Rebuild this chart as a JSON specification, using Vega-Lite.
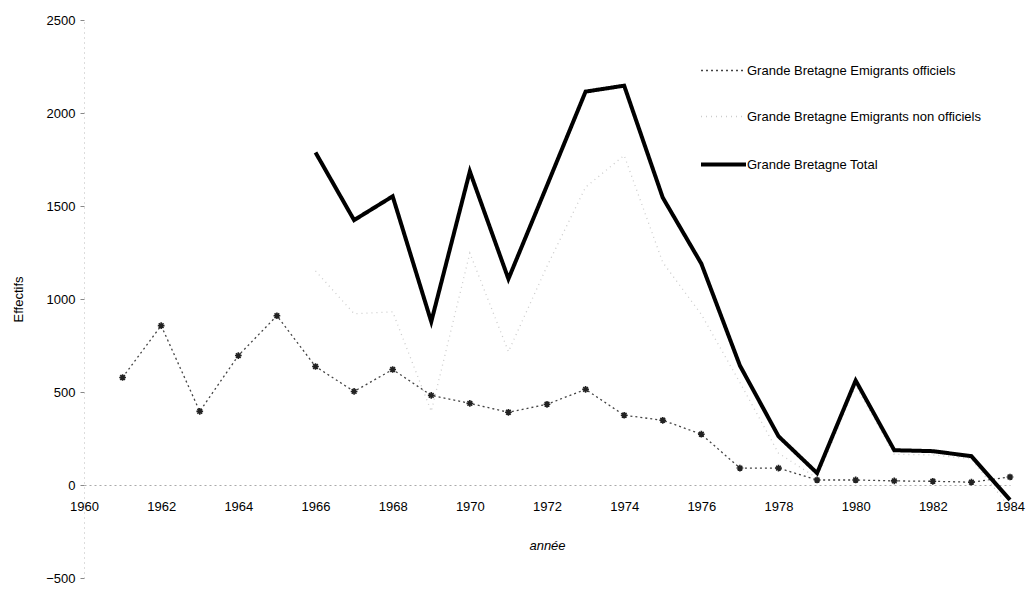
{
  "$schema": "https://vega.github.io/schema/vega-lite/v6.json",
  "width": 926,
  "height": 558,
  "autosize": {"type": "none"},
  "padding": {"left": 84, "top": 20, "right": 19, "bottom": 11},
  "background": "white",
  "config": {
    "view": {"stroke": null},
    "font": "Liberation Sans",
    "axis": {"grid": false, "labelColor": "#000", "titleColor": "#000", "labelFontSize": 13, "titleFontSize": 13, "titleFontWeight": "normal"},
    "legend": {"labelFontSize": 13, "labelColor": "#000", "labelLimit": 0, "symbolSize": 2025, "symbolType": "stroke"}
  },
  "data": {
    "values": [
      {"annee": 1961, "serie": "Grande Bretagne Emigrants officiels", "valeur": 578},
      {"annee": 1962, "serie": "Grande Bretagne Emigrants officiels", "valeur": 857},
      {"annee": 1963, "serie": "Grande Bretagne Emigrants officiels", "valeur": 396},
      {"annee": 1964, "serie": "Grande Bretagne Emigrants officiels", "valeur": 696},
      {"annee": 1965, "serie": "Grande Bretagne Emigrants officiels", "valeur": 910},
      {"annee": 1966, "serie": "Grande Bretagne Emigrants officiels", "valeur": 637},
      {"annee": 1967, "serie": "Grande Bretagne Emigrants officiels", "valeur": 503},
      {"annee": 1968, "serie": "Grande Bretagne Emigrants officiels", "valeur": 621},
      {"annee": 1969, "serie": "Grande Bretagne Emigrants officiels", "valeur": 482},
      {"annee": 1970, "serie": "Grande Bretagne Emigrants officiels", "valeur": 439},
      {"annee": 1971, "serie": "Grande Bretagne Emigrants officiels", "valeur": 391},
      {"annee": 1972, "serie": "Grande Bretagne Emigrants officiels", "valeur": 434},
      {"annee": 1973, "serie": "Grande Bretagne Emigrants officiels", "valeur": 514},
      {"annee": 1974, "serie": "Grande Bretagne Emigrants officiels", "valeur": 375},
      {"annee": 1975, "serie": "Grande Bretagne Emigrants officiels", "valeur": 348},
      {"annee": 1976, "serie": "Grande Bretagne Emigrants officiels", "valeur": 273},
      {"annee": 1977, "serie": "Grande Bretagne Emigrants officiels", "valeur": 91},
      {"annee": 1978, "serie": "Grande Bretagne Emigrants officiels", "valeur": 91},
      {"annee": 1979, "serie": "Grande Bretagne Emigrants officiels", "valeur": 27},
      {"annee": 1980, "serie": "Grande Bretagne Emigrants officiels", "valeur": 27},
      {"annee": 1981, "serie": "Grande Bretagne Emigrants officiels", "valeur": 22},
      {"annee": 1982, "serie": "Grande Bretagne Emigrants officiels", "valeur": 20},
      {"annee": 1983, "serie": "Grande Bretagne Emigrants officiels", "valeur": 15},
      {"annee": 1984, "serie": "Grande Bretagne Emigrants officiels", "valeur": 43},
      {"annee": 1966, "serie": "Grande Bretagne Emigrants non officiels", "valeur": 1151},
      {"annee": 1967, "serie": "Grande Bretagne Emigrants non officiels", "valeur": 921},
      {"annee": 1968, "serie": "Grande Bretagne Emigrants non officiels", "valeur": 931},
      {"annee": 1969, "serie": "Grande Bretagne Emigrants non officiels", "valeur": 396},
      {"annee": 1970, "serie": "Grande Bretagne Emigrants non officiels", "valeur": 1247},
      {"annee": 1971, "serie": "Grande Bretagne Emigrants non officiels", "valeur": 717},
      {"annee": 1972, "serie": "Grande Bretagne Emigrants non officiels", "valeur": 1176},
      {"annee": 1973, "serie": "Grande Bretagne Emigrants non officiels", "valeur": 1601},
      {"annee": 1974, "serie": "Grande Bretagne Emigrants non officiels", "valeur": 1772},
      {"annee": 1975, "serie": "Grande Bretagne Emigrants non officiels", "valeur": 1197},
      {"annee": 1976, "serie": "Grande Bretagne Emigrants non officiels", "valeur": 917},
      {"annee": 1977, "serie": "Grande Bretagne Emigrants non officiels", "valeur": 551},
      {"annee": 1978, "serie": "Grande Bretagne Emigrants non officiels", "valeur": 171},
      {"annee": 1979, "serie": "Grande Bretagne Emigrants non officiels", "valeur": 37},
      {"annee": 1980, "serie": "Grande Bretagne Emigrants non officiels", "valeur": 535},
      {"annee": 1981, "serie": "Grande Bretagne Emigrants non officiels", "valeur": 165},
      {"annee": 1982, "serie": "Grande Bretagne Emigrants non officiels", "valeur": 162},
      {"annee": 1983, "serie": "Grande Bretagne Emigrants non officiels", "valeur": 140},
      {"annee": 1984, "serie": "Grande Bretagne Emigrants non officiels", "valeur": -123},
      {"annee": 1966, "serie": "Grande Bretagne Total", "valeur": 1788},
      {"annee": 1967, "serie": "Grande Bretagne Total", "valeur": 1424},
      {"annee": 1968, "serie": "Grande Bretagne Total", "valeur": 1552},
      {"annee": 1969, "serie": "Grande Bretagne Total", "valeur": 878},
      {"annee": 1970, "serie": "Grande Bretagne Total", "valeur": 1686},
      {"annee": 1971, "serie": "Grande Bretagne Total", "valeur": 1108},
      {"annee": 1972, "serie": "Grande Bretagne Total", "valeur": 1610},
      {"annee": 1973, "serie": "Grande Bretagne Total", "valeur": 2115},
      {"annee": 1974, "serie": "Grande Bretagne Total", "valeur": 2147},
      {"annee": 1975, "serie": "Grande Bretagne Total", "valeur": 1545},
      {"annee": 1976, "serie": "Grande Bretagne Total", "valeur": 1190},
      {"annee": 1977, "serie": "Grande Bretagne Total", "valeur": 642},
      {"annee": 1978, "serie": "Grande Bretagne Total", "valeur": 262},
      {"annee": 1979, "serie": "Grande Bretagne Total", "valeur": 64},
      {"annee": 1980, "serie": "Grande Bretagne Total", "valeur": 562},
      {"annee": 1981, "serie": "Grande Bretagne Total", "valeur": 187},
      {"annee": 1982, "serie": "Grande Bretagne Total", "valeur": 182},
      {"annee": 1983, "serie": "Grande Bretagne Total", "valeur": 155},
      {"annee": 1984, "serie": "Grande Bretagne Total", "valeur": -80}
    ]
  },
  "encoding": {
    "x": {
      "field": "annee", "type": "quantitative",
      "scale": {"domain": [1960, 1984], "nice": false, "zero": false},
      "axis": {
        "title": "année", "titleFontStyle": "italic", "values": [1960, 1962, 1964, 1966, 1968, 1970, 1972, 1974, 1976, 1978, 1980, 1982, 1984],
        "format": "d", "offset": -93, "ticks": false, "labelPadding": 15, "titlePadding": 26,
        "domainColor": "#aaaaaa", "domainDash": [2, 3], "labelFlush": false
      }
    },
    "y": {
      "field": "valeur", "type": "quantitative",
      "scale": {"domain": [-500, 2500], "nice": false},
      "axis": {
        "title": "Effectifs", "values": [-500, 0, 500, 1000, 1500, 2000, 2500], "format": "d",
        "tickSize": 4, "tickColor": "#888888", "labelPadding": 5, "titlePadding": 20,
        "domainColor": "#bbbbbb", "domainDash": [1, 4]
      }
    }
  },
  "layer": [
    {
      "mark": {"type": "line", "clip": false},
      "encoding": {
        "color": {
          "field": "serie", "type": "nominal",
          "scale": {"domain": ["Grande Bretagne Emigrants officiels", "Grande Bretagne Emigrants non officiels", "Grande Bretagne Total"], "range": ["#444444", "#cccccc", "#000000"]},
          "legend": {
            "title": null, "orient": "none", "legendX": 633, "legendY": 44, "symbolType": "stroke", "symbolSize": 2025, "rowPadding": 32, "labelOffset": 17,
            "encode": {"symbols": {"update": {"size": {"value": 2025}, "strokeWidth": {"signal": "datum.value === 'Grande Bretagne Total' ? 4 : 1.3"}}}}
          }
        },
        "strokeDash": {
          "field": "serie", "type": "nominal",
          "scale": {"domain": ["Grande Bretagne Emigrants officiels", "Grande Bretagne Emigrants non officiels", "Grande Bretagne Total"], "range": [[2, 3], [1, 4], [1, 0]]},
          "legend": {
            "title": null, "orient": "none", "legendX": 633, "legendY": 44, "symbolType": "stroke", "symbolSize": 2025, "rowPadding": 32, "labelOffset": 17,
            "encode": {"symbols": {"update": {"size": {"value": 2025}, "strokeWidth": {"signal": "datum.value === 'Grande Bretagne Total' ? 4 : 1.3"}}}}
          }
        },
        "strokeWidth": {
          "condition": {"test": "datum.serie === 'Grande Bretagne Total'", "value": 4},
          "value": 1.3
        }
      }
    },
    {
      "transform": [{"filter": "datum.serie === 'Grande Bretagne Emigrants officiels'"}],
      "mark": {"type": "point", "shape": "M-1,0L1,0M0,-1L0,1M-0.7,-0.7L0.7,0.7M-0.7,0.7L0.7,-0.7", "filled": false, "stroke": "#222222", "strokeWidth": 1.6, "size": 45, "opacity": 1}
    }
  ]
}
